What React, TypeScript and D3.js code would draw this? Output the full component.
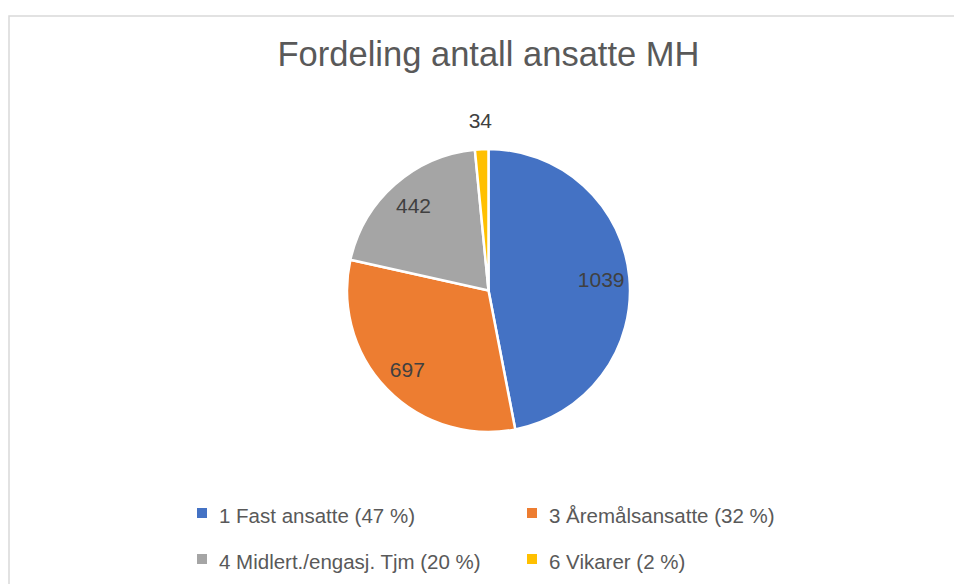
import React from "react";
import * as d3 from "d3";

const title = "Fordeling antall ansatte MH";
const categories = ["1 Fast ansatte", "3 Åremålsansatte", "4 Midlert./engasj. Tjm", "6 Vikarer"];
const values = [1039, 697, 442, 34];
const colors = ["#4472C4", "#ED7D31", "#A5A5A5", "#FFC000"];

const W = 954;
const H = 584;
const cx = 488.5;
const cy = 290.5;
const r = 141.5;
const font = "'Liberation Sans', Arial, sans-serif";

const App = () => {
	const total = d3.sum(values);
	const pie = d3.pie<number>().sort(null).value((d) => d);
	const arcs = pie(values);
	const arc = d3.arc<d3.PieArcDatum<number>>().innerRadius(0).outerRadius(r);

	// labels inside the slice, except the tiny one which goes outside
	const labelPos = (a: d3.PieArcDatum<number>) => {
		const mid = (a.startAngle + a.endAngle) / 2;
		const small = a.endAngle - a.startAngle < 0.2;
		const rr = small ? r * 1.2 : r * 0.8;
		return [Math.sin(mid) * rr, -Math.cos(mid) * rr];
	};

	// legend: two columns, two rows
	const colX = [197, 527];
	const rowY = [513, 559];

	return (
		<svg width={W} height={H} style={{ position: "absolute", left: 0, top: 0, background: "#fff" }}>
			<rect x={9} y={16} width={W + 20} height={H + 20} fill="#fff" stroke="#d9d9d9" strokeWidth={1.5} />
			<text x={cx} y={66} textAnchor="middle" fontFamily={font} fontSize={34.5} fill="#595959">
				{title}
			</text>
			<g transform={`translate(${cx},${cy})`}>
				{arcs.map((a, i) => (
					<path key={i} d={arc(a) || ""} fill={colors[i]} stroke="#fff" strokeWidth={2.5} />
				))}
				{arcs.map((a, i) => {
					const [x, y] = labelPos(a);
					return (
						<text key={"l" + i} x={x} y={y} dy="0.35em" textAnchor="middle" fontFamily={font} fontSize={21} fill="#404040">
							{values[i]}
						</text>
					);
				})}
			</g>
			{categories.map((c, i) => {
				const x = colX[i % 2];
				const y = rowY[Math.floor(i / 2)];
				const pct = Math.round((values[i] / total) * 100);
				return (
					<g key={"g" + i}>
						<rect x={x} y={y - 5} width={10} height={10} fill={colors[i]} />
						<text x={x + 22} y={y + 10} fontFamily={font} fontSize={20.5} fill="#595959">
							{`${c} (${pct} %)`}
						</text>
					</g>
				);
			})}
		</svg>
	);
};

export default App;
